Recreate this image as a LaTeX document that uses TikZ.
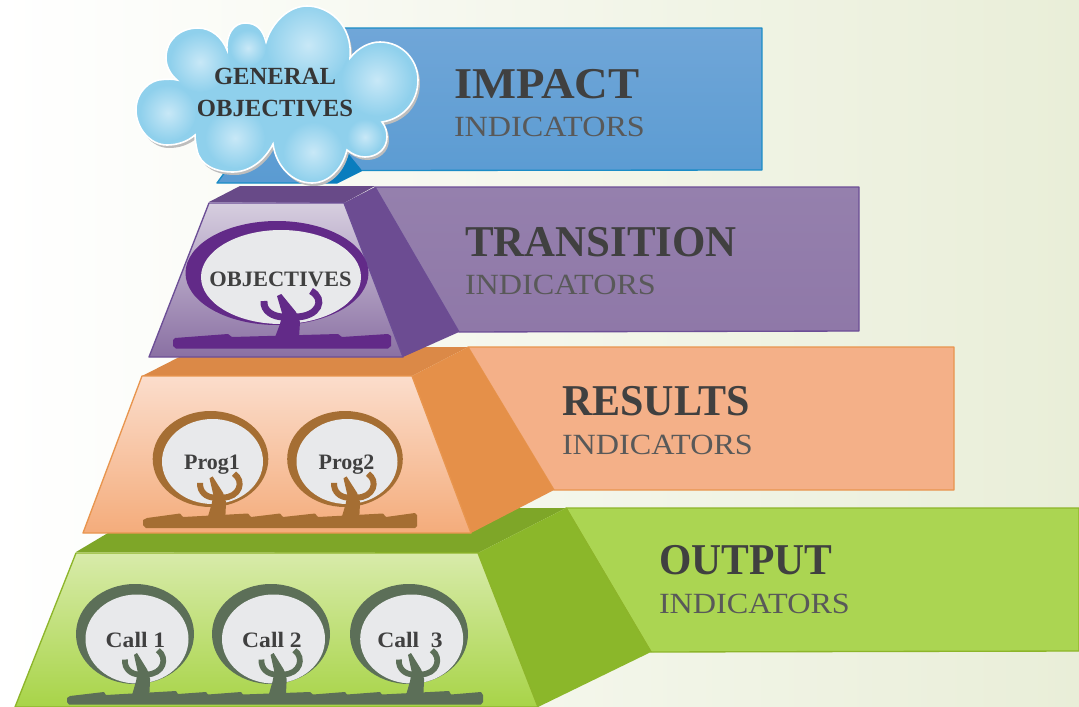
\documentclass[tikz,border=0pt]{standalone}
\usepackage{fontspec}
\setmainfont{Liberation Serif}
\definecolor{bgR}{HTML}{E9EED8}\definecolor{bgM}{HTML}{FAFBF5}
\definecolor{blueT}{HTML}{70A6D8}\definecolor{blueB}{HTML}{5A9BD2}\definecolor{blueL}{HTML}{1A8CC6}\definecolor{blueD}{HTML}{0A7DBE}
\definecolor{cloudA}{HTML}{8FD0EC}\definecolor{cloudH}{HTML}{C8E8F7}
\definecolor{purT}{HTML}{9580AD}\definecolor{purB}{HTML}{8F78A8}\definecolor{purL}{HTML}{6C4E96}\definecolor{purS}{HTML}{6C4C92}\definecolor{purTop}{HTML}{684A88}\definecolor{purF}{HTML}{D6CEDF}\definecolor{purG}{HTML}{8A70A3}\definecolor{purR}{HTML}{622A88}
\definecolor{orgT}{HTML}{F4B088}\definecolor{orgL}{HTML}{E8954E}\definecolor{orgS}{HTML}{E59049}\definecolor{orgTop}{HTML}{DB8947}\definecolor{orgF}{HTML}{FBDDCC}\definecolor{orgG}{HTML}{F4AC7B}\definecolor{orgR}{HTML}{A56E33}
\definecolor{grnT}{HTML}{ABD552}\definecolor{grnL}{HTML}{8DB52A}\definecolor{grnS}{HTML}{8BB72A}\definecolor{grnTop}{HTML}{7EA628}\definecolor{grnF}{HTML}{D8EBAA}\definecolor{grnG}{HTML}{A8D448}\definecolor{grnR}{HTML}{5C6F58}
\definecolor{holeC}{HTML}{E8E9EB}\definecolor{titleC}{HTML}{404040}\definecolor{subC}{HTML}{595959}\definecolor{shadowC}{HTML}{BDBDBD}
\newcommand\sprout[6]{% x y xscale yscale colour branch-width
  \begin{scope}[shift={(#1,#2)},xscale=#3,yscale=#4]
    \fill[#5] (-12.3,1) -- (-7,-13) -- (-4.7,-23) -- (-10,-41) -- (-5.7,-43) -- (9,-25) -- (13,-15) -- (12,1) -- cycle;
    \draw[#5,line width=#6] (-23,-36) .. controls (-24,-26) and (-14,-20) .. (-3,-20);
    \draw[#5,line width=#6] (24,-46) .. controls (39,-38) and (32,-20) .. (8,-20);
  \end{scope}}
\newcommand\ring[9]{% outer cx cy rx ry, inner cx cy rx ry, colour
  \fill[#9] (#1,#2) ellipse [x radius=#3,y radius=#4];
  \fill[holeC] (#5,#6) ellipse [x radius=#7,y radius=#8];}
\newcommand\cloudpath{(195,135) .. controls (187,142) and (177,145) .. (167,145)
  .. controls (150,145) and (136,128) .. (136,110)
  .. controls (136,92) and (150,79.5) .. (163,79.5)
  .. controls (168,79) and (173,79) .. (177,80)
  .. controls (170,74) and (166,66) .. (166,58)
  .. controls (166,40) and (180,28) .. (198,28)
  .. controls (211,28) and (222,37) .. (227,50)
  .. controls (226,34) and (234,23) .. (245,23)
  .. controls (257,23) and (263,30) .. (266,42)
  .. controls (272,22) and (289,6) .. (307,6)
  .. controls (328,6) and (353,24) .. (350,58)
  .. controls (358,48) and (369,42) .. (380,42)
  .. controls (402,42) and (418,60) .. (418,80)
  .. controls (418,103) and (402,119) .. (382,122)
  .. controls (386,127) and (387,132) .. (387,137)
  .. controls (387,149) and (377,157) .. (365,157)
  .. controls (358,157) and (352,154) .. (347,150)
  .. controls (342,170) and (328,183) .. (312,183)
  .. controls (292,183) and (276,166) .. (273,144)
  .. controls (265,160) and (250,172) .. (233,172)
  .. controls (215,172) and (200,165) .. (197,150)
  .. controls (196,145) and (195,140) .. (195,135) -- cycle}
\newcommand\spot[3]{\shade[inner color=cloudH,outer color=cloudA] (#1,#2) circle [radius=#3];}
\tikzset{
  band/.style={line width=1pt,line join=round},
  titlelab/.style={anchor=base west,inner sep=0pt,outer sep=0pt,text=titleC,font=\fontsize{33}{33}\selectfont\bfseries},
  sublab/.style={anchor=base west,inner sep=0pt,outer sep=0pt,text=subC,font=\fontsize{22}{22}\selectfont},
  smalllab/.style={anchor=base,inner sep=0pt,outer sep=0pt,text=titleC,font=\fontsize{16.5}{17}\selectfont\bfseries},
  cloudlab/.style={anchor=base,inner sep=0pt,outer sep=0pt,text=titleC!85!black,font=\fontsize{18.5}{19}\selectfont\bfseries}
}
\newcommand\subtext{\scalebox{1.098}[1]{INDICATORS}}
\begin{document}
\begin{tikzpicture}[x=0.75pt,y=-0.75pt]
\useasboundingbox (0,0) rectangle (1079,707);
\shade[left color=white,middle color=bgM,right color=bgR] (0,0) rectangle (1079,707);

% OUTPUT tier
\fill[band,grnTop] (76,552) -- (150,508) -- (566,508) -- (478,553) -- cycle;
\draw[band,grnL,top color=grnT,bottom color=grnT] (566,508) -- (1079,508) -- (1079,651) -- (651,652) -- cycle;
\fill[grnS] (478,553) -- (566,508) -- (651,652) -- (538,707) -- cycle;
\draw[band,grnL] (566,508) -- (651,652);
\draw[band,grnL,top color=grnF,bottom color=grnG] (76,553) -- (478,553) -- (538,707) -- (15,707) -- cycle;
\ring{135}{634}{59}{50}{137}{639}{51.5}{44.5}{grnR}
\ring{271}{634}{59}{50}{273.5}{639}{51.5}{44.5}{grnR}
\ring{409}{634}{59}{50}{411.7}{639}{51.5}{44.5}{grnR}
\fill[grnR,line join=round] (70,696) -- (104,692) -- (106,695) -- (176,691) -- (178,694) -- (206,692) -- (208,694.5) -- (241,692) -- (243,694.5) -- (310,692) -- (313,694.5) -- (345,692) -- (347,694.5) -- (380,692) -- (382,694.5) -- (449,691) -- (451,694.5) -- (481,692) -- (483,695) -- (483,702) -- (481,704.5) -- (69,704.5) -- (67,702) -- (67,698) -- cycle;
\sprout{141}{693}{.7}{.93}{grnR}{4.3pt}
\sprout{277.6}{693}{.7}{.93}{grnR}{4.3pt}
\sprout{415}{693}{.7}{.93}{grnR}{4.3pt}
\node[smalllab] (call1) at (135.5,647) {\scalebox{1.07}[1]{Call 1}};
\node[smalllab] (call2) at (272,647) {\scalebox{1.07}[1]{Call 2}};
\node[smalllab] (call3) at (410,647) {\scalebox{1.07}[1]{Call\ \ 3}};
\node[titlelab] (outputT) at (659,574) {\scalebox{.945}[1]{OUTPUT}};
\node[sublab] (outputS) at (659,613) {\subtext};

% RESULTS tier
\fill[orgTop] (142,376) -- (199,347) -- (468,347) -- (412,376) -- cycle;
\draw[band,orgL,fill=orgT] (468,347) -- (954,347) -- (954,490) -- (554,490) -- cycle;
\fill[orgS] (412,376) -- (468,347) -- (554,490) -- (471,533) -- cycle;
\draw[band,orgL,top color=orgF,bottom color=orgG] (142,376) -- (412,376) -- (471,533) -- (83,533) -- cycle;
\ring{210.5}{459}{57.8}{48}{212.5}{461.5}{50.5}{42.5}{orgR}
\ring{345}{459}{57.8}{48}{347}{461.5}{50.5}{42.5}{orgR}
\fill[orgR] (147,518) -- (180,513.5) -- (183,517) -- (248,513.5) -- (251,517) -- (280,513.5) -- (283,517) -- (315,513.5) -- (318,517) -- (383,513.5) -- (386,517) -- (415,513) -- (417,515) -- (417,526) -- (415,528) -- (146,528) -- (143,525) -- (143,520) -- cycle;
\sprout{216.7}{516}{.72}{.92}{orgR}{4.5pt}
\sprout{350.7}{516}{.72}{.92}{orgR}{4.5pt}
\node[smalllab] (prog1) at (212,469) {Prog1};
\node[smalllab] (prog2) at (346.5,469) {Prog2};
\node[titlelab] (resultsT) at (562,415) {\scalebox{.955}[1]{RESULTS}};
\node[sublab] (resultsS) at (562,454) {\subtext};

% TRANSITION tier
\fill[purTop] (209,202) -- (240,186) -- (375,186) -- (344,203) -- cycle;
\draw[band,purL,top color=purT,bottom color=purB] (375,187) -- (859,187) -- (859,331) -- (459,332) -- cycle;
\fill[purS] (344,203) -- (375,187) -- (459,332) -- (403,357) -- cycle;
\draw[band,purL,top color=purF,bottom color=purG] (209,203) -- (344,203) -- (403,357) -- (149,357) -- cycle;
\ring{277}{273}{91.5}{52}{281}{277}{80}{47}{purR}
\fill[purR] (175,338) -- (228,334) -- (232,337) -- (338,334) -- (342,337) -- (388,334) -- (391,336) -- (391,346) -- (388,348.5) -- (176,348.5) -- (173,346) -- (173,340) -- cycle;
\sprout{287}{337}{1}{1}{purR}{5.2pt}
\node[smalllab] (objectives) at (280.5,286) {\scalebox{1.02}[1]{OBJECTIVES}};
\node[titlelab] (transitionT) at (465,256) {\scalebox{.975}[1]{TRANSITION}};
\node[sublab] (transitionS) at (465,294) {\subtext};

% IMPACT tier
\draw[band,blueL,top color=blueT,bottom color=blueB] (330,28) -- (762,28) -- (762,170) -- (362,170.5) -- (337,183) -- (217,183) -- cycle;
\fill[blueD] (362,170.5) -- (337,183) -- (326,183) -- (347,152) -- cycle;
\node[titlelab] (impactT) at (454,98) {\scalebox{1.06}[1]{IMPACT}};
\node[sublab] (impactS) at (454,136) {\subtext};

% Cloud
\fill[shadowC,shift={(2,3)}] \cloudpath;
\begin{scope}
  \clip \cloudpath;
  \fill[cloudA] (130,0) rectangle (425,190);
  \spot{308}{45}{42}
  \spot{377}{80}{36}
  \spot{200}{62}{30}
  \spot{248}{48}{18}
  \spot{168}{113}{28}
  \spot{235}{138}{30}
  \spot{313}{152}{30}
  \spot{365}{137}{18}
\end{scope}
\draw[white,line width=1.2pt] \cloudpath;
\node[cloudlab] (general) at (275,84) {GENERAL};
\node[cloudlab] (genobj) at (275,116) {OBJECTIVES};
\end{tikzpicture}
\end{document}
